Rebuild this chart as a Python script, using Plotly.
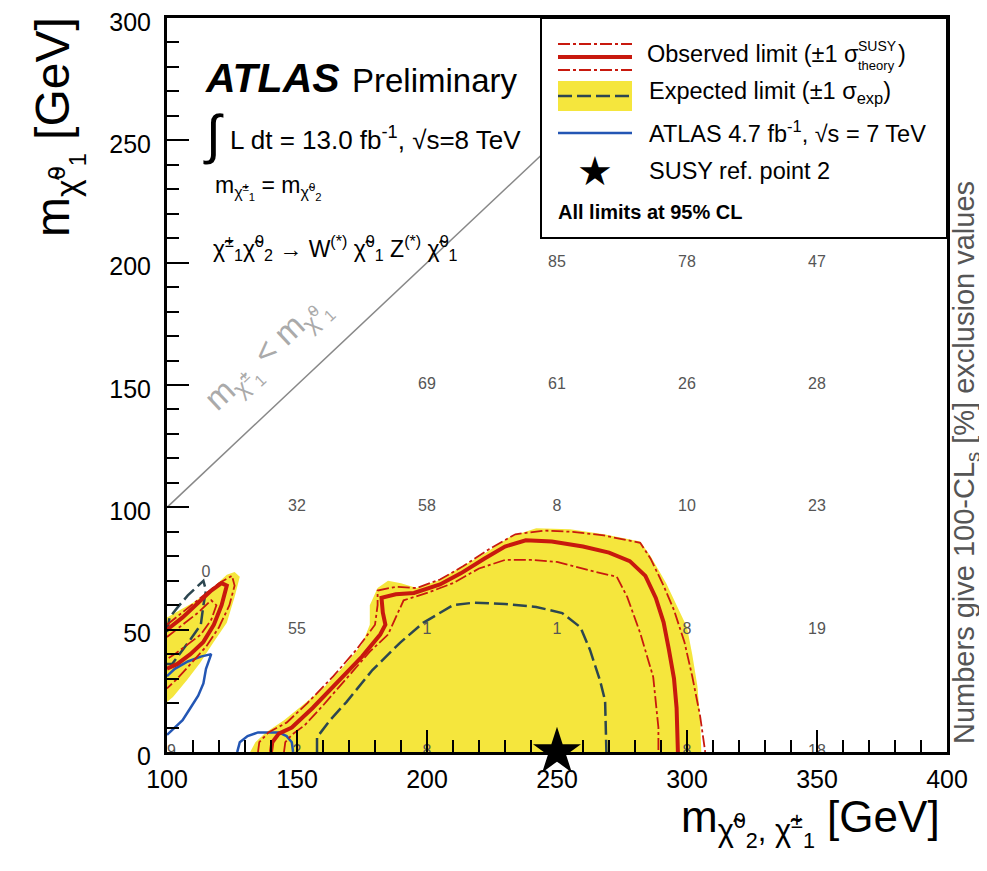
import plotly.graph_objects as go

# ---------------- data (GeV) ----------------
# Expected limit +-1 sigma band (yellow), main region and left island
band_main_x = [132, 134, 138, 145, 152, 160, 168, 175, 178, 178, 181, 185, 190, 196, 204, 212, 222, 232, 242, 255, 268, 282, 286, 292, 297, 300, 302, 304, 305, 305.5]
band_main_y = [0, 4, 8, 13, 19, 26, 35, 44, 52, 60, 67, 70, 69, 67, 70, 75, 81, 88, 91.5, 91, 89, 86, 80, 69, 58, 51, 40, 27, 14, 0]
band_isl_x = [100, 100, 105, 110, 116.5, 123, 126, 128, 126, 123, 117.7, 112.7, 107.7, 102.3]
band_isl_y = [20.4, 55, 58, 61, 66, 72.4, 73.6, 71.6, 63.4, 52.8, 44.6, 36.4, 29.4, 22.5]

# Observed limit (thick)
obs_x = [140, 140.5, 143, 148, 156, 166, 175, 182, 184, 183, 182.5, 188, 195, 205, 213, 222, 230, 238, 248, 260, 270, 278, 284, 288, 291, 293, 295, 296, 296.5]
obs_y = [0, 4, 7.5, 10, 18, 29, 39, 48, 52, 57, 63, 64.5, 65, 68.5, 73, 79, 84, 86.5, 86, 84, 81.5, 78, 72, 63, 53, 42, 30, 18, 0]
obs_isl_x = [100, 106, 112, 117, 121, 123, 121, 118, 114, 109, 104, 100]
obs_isl_y = [50, 55, 61, 66, 69, 68, 60, 52, 45, 40, 36, 34]

# Observed +1 sigma theory
obs_up_x = [135, 135.5, 139, 146, 154, 164, 173, 180, 181, 181, 188, 196, 205, 214, 224, 234, 245, 256, 268, 282, 286, 291, 295, 299, 302, 305, 307]
obs_up_y = [0, 4, 8, 12, 20, 31, 42, 52, 60, 66, 67.5, 67, 70.5, 76, 83, 89, 90.5, 90, 88.5, 85.5, 79, 68, 58, 45, 31, 15, 0]
obs_up_isl_x = [100, 107, 114, 120, 125, 126, 124, 120, 115, 109, 104, 100]
obs_up_isl_y = [52, 58, 64, 69, 72, 68, 60, 51, 43, 36, 30, 26]

# Observed -1 sigma theory
obs_dn_x = [145, 145.5, 148, 153, 160, 170, 178, 185, 188, 191, 200, 210, 220, 230, 240, 250, 265, 273, 277, 282, 287, 289, 289]
obs_dn_y = [0, 4, 7, 11, 19, 31, 41, 48, 55, 62, 65, 69, 75, 78.5, 78.5, 77.7, 73.6, 71.6, 63.4, 48.6, 30.7, 10, 0]
obs_dn_isl_x = [100, 106, 112, 117, 119, 117, 113, 108, 103, 100]
obs_dn_isl_y = [47, 52, 57, 62, 60, 54, 48, 44, 40, 38]

# Expected limit
exp_x = [157.7, 157.7, 162.7, 169, 179, 189.6, 198.5, 210, 217.7, 230, 242, 252, 259, 262.7, 266.5, 268.5, 269]
exp_y = [0, 6, 13, 20.4, 33.5, 44.6, 52.8, 60, 61, 60.5, 59.3, 56.8, 51, 41.7, 29.4, 21, 0]
exp_isl_x = [100, 101, 104, 108, 114, 115, 114, 113, 109, 105, 102, 100]
exp_isl_y = [49, 55, 59, 64, 70, 66, 60, 52, 46, 40, 36, 36]

# ATLAS 4.7 fb-1, 7 TeV
a7_isl_x = [100, 103, 106, 109, 112, 114, 115, 117, 113, 108, 103, 100]
a7_isl_y = [7, 10, 13, 18, 23, 28, 34, 40, 39, 37, 34, 31]
a7_low_x = [127, 128, 131, 135, 143, 146, 148, 148.5]
a7_low_y = [0, 4, 6.5, 8, 8, 6.5, 4, 0]

# kinematic boundary m(chi1+-) = m(chi1^0)
diag_x = [100, 300]
diag_y = [100, 300]

# 100-CLs [%] values at grid points
num_x = [250, 300, 350, 200, 250, 300, 350, 150, 200, 250, 300, 350, 150, 200, 250, 300, 350, 100, 150, 200, 300, 350, 115]
num_y = [200, 200, 200, 150, 150, 150, 150, 100, 100, 100, 100, 100, 50, 50, 50, 50, 50, 0, 0, 0, 0, 0, 73]
num_t = ["85", "78", "47", "69", "61", "26", "28", "32", "58", "8", "10", "23", "55", "1", "1", "8", "19", "29", "2", "8", "8", "18", "0"]

# SUSY reference point 2
ref_x = [250]
ref_y = [0]

RED = "#C8190E"
YEL = "#F5E63D"
EXPC = "#2C4650"
BLUE = "#2356B4"
FONT = "Liberation Sans, Arial, Helvetica, sans-serif"

fig = go.Figure()
for bx, by in [(band_main_x, band_main_y), (band_isl_x, band_isl_y)]:
    fig.add_trace(go.Scatter(x=bx, y=by, fill="toself", fillcolor=YEL, mode="lines",
                             line=dict(width=0, color=YEL), hoverinfo="skip", showlegend=False))

fig.add_trace(go.Scatter(x=num_x, y=num_y, text=num_t, mode="text",
                         textfont=dict(size=16, color="#555555", family=FONT), showlegend=False))

for ex, ey in [(exp_x, exp_y), (exp_isl_x, exp_isl_y)]:
    fig.add_trace(go.Scatter(x=ex, y=ey, mode="lines", line=dict(color=EXPC, width=2.5, dash="14px,5px"),
                             showlegend=False))
for ax_, ay_ in [(a7_isl_x, a7_isl_y), (a7_low_x, a7_low_y)]:
    fig.add_trace(go.Scatter(x=ax_, y=ay_, mode="lines", line=dict(color=BLUE, width=2.5), showlegend=False))
for sx, sy in [(obs_up_x, obs_up_y), (obs_dn_x, obs_dn_y), (obs_up_isl_x, obs_up_isl_y), (obs_dn_isl_x, obs_dn_isl_y)]:
    fig.add_trace(go.Scatter(x=sx, y=sy, mode="lines", line=dict(color=RED, width=1.8, dash="12px,3px,3px,3px"),
                             showlegend=False))
for sx, sy in [(obs_x, obs_y), (obs_isl_x, obs_isl_y)]:
    fig.add_trace(go.Scatter(x=sx, y=sy, mode="lines", line=dict(color=RED, width=4), showlegend=False))

fig.add_trace(go.Scatter(x=diag_x, y=diag_y, mode="lines", line=dict(color="#888888", width=1.5), showlegend=False))
fig.add_trace(go.Scatter(x=ref_x, y=ref_y, mode="markers", marker=dict(symbol="star", size=36, color="black"),
                         cliponaxis=False, showlegend=False))

# plot area in page pixels (page has an 8px body margin)
OFF = 8
L, T, W, H = 167, 18, 780, 734
FW, FH = 987 - OFF, 871 - OFF


def P(xp, yp):
    return (xp - L) / W, (T + H - yp) / H


shapes = []


def rect(x0, y0, x1, y1, **kw):
    a, b = P(x0, y1)
    c, d = P(x1, y0)
    shapes.append(dict(type="rect", xref="paper", yref="paper", x0=a, y0=b, x1=c, y1=d, **kw))


def hline(x0, x1, y, **kw):
    a, b = P(x0, y)
    c, _ = P(x1, y)
    shapes.append(dict(type="line", xref="paper", yref="paper", x0=a, y0=b, x1=c, y1=b, **kw))


rect(541, 18, 947, 238, line=dict(color="black", width=2), fillcolor="white")
hline(558, 632, 44, line=dict(color=RED, width=1.8, dash="12px,3px,3px,3px"))
hline(558, 632, 57, line=dict(color=RED, width=4))
hline(558, 632, 70, line=dict(color=RED, width=1.8, dash="12px,3px,3px,3px"))
rect(558, 81, 632, 111, line=dict(width=0), fillcolor=YEL)
hline(558, 632, 96, line=dict(color=EXPC, width=2.5, dash="14px,5px"))
hline(558, 632, 133, line=dict(color=BLUE, width=2.5))

ann = []


def text(xp, yp, s, size, xanchor="left", color="black", angle=0, yanchor="middle"):
    a, b = P(xp, yp)
    ann.append(dict(x=a, y=b, xref="paper", yref="paper", text=s, showarrow=False, xanchor=xanchor,
                    yanchor=yanchor, textangle=angle, font=dict(size=size, color=color, family=FONT)))


chi = "χ̃"
text(203, 78, "<b><i>ATLAS</i></b>", 41)
text(350, 80, "Preliminary", 33)
text(201, 135, "∫", 54)
text(228, 138, "L dt = 13.0 fb<sup>-1</sup>, √s=8 TeV", 26)
text(213, 188, f"m<sub>{chi}<sup>±</sup><sub>1</sub></sub> = m<sub>{chi}<sup>0</sup><sub>2</sub></sub>", 23)
text(211, 248, f"{chi}<sup>±</sup><sub>1</sub>{chi}<sup>0</sup><sub>2</sub> → W<sup>(*)</sup> {chi}<sup>0</sup><sub>1</sub> Z<sup>(*)</sup> {chi}<sup>0</sup><sub>1</sub>", 23)
text(268, 355, f"m<sub>{chi}<sup>±</sup><sub>1</sub></sub> &lt; m<sub>{chi}<sup>0</sup><sub>1</sub></sub>", 33,
     xanchor="center", color="#aaaaaa", angle=-43)

text(645, 54, "Observed limit (±1 σ", 23.5)
text(856, 46, "SUSY", 14)
text(856, 65, "theory", 13)
text(896, 54, ")", 23.5)
text(647, 92, "Expected limit (±1 σ<sub>exp</sub>)", 23.5)
text(647, 132, "ATLAS 4.7 fb<sup>-1</sup>, √s = 7 TeV", 23.5)
text(647, 171, "SUSY ref. point 2", 23.5)
text(556, 212, "<b>All limits at 95% CL</b>", 20)
text(595, 171, "★", 40, xanchor="center")

text(966, 462, "Numbers give 100-CL<sub>s</sub> [%] exclusion values", 29, xanchor="center", color="#555555", angle=-90)
text(58, 127, f"m<sub>{chi}<sup>0</sup><sub>1</sub></sub> [GeV]", 48, xanchor="center", angle=-90)
text(942, 822, f"m<sub>{chi}<sup>0</sup><sub>2</sub>, {chi}<sup>±</sup><sub>1</sub></sub> [GeV]", 44, xanchor="right")

axis_common = dict(showgrid=False, zeroline=False, showline=True, linecolor="black", linewidth=3, mirror=True,
                   ticks="inside", ticklen=22, tickwidth=2, tickcolor="black", dtick=50,
                   ticklabeloverflow="allow", automargin=False,
                   minor=dict(ticks="inside", ticklen=12, tickwidth=2, tickcolor="black", dtick=10),
                   tickfont=dict(size=25, family=FONT, color="black"))

fig.update_layout(
    width=FW, height=FH,
    margin=dict(l=L - OFF, r=FW - (L - OFF) - W, t=T - OFF, b=FH - (T - OFF) - H, autoexpand=False),
    paper_bgcolor="white", plot_bgcolor="white",
    xaxis=dict(range=[100, 400], tick0=100, ticklabelstandoff=3, **axis_common),
    yaxis=dict(range=[0, 300], tick0=0, ticklabelstandoff=8, ticklabelshift=4, **axis_common),
    shapes=shapes, annotations=ann, showlegend=False,
)

fig.write_html("out.html")
